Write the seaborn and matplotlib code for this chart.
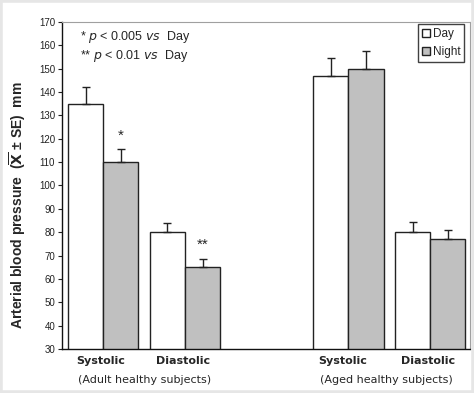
import matplotlib
matplotlib.use("Agg")
import matplotlib.pyplot as plt
import seaborn as sns
import pandas as pd
import numpy as np
from matplotlib.patches import Rectangle, Patch

# ---- data ----
categories = ["Systolic", "Diastolic", "", "Systolic ", "Diastolic "]
groups = ["(Adult healthy subjects)", "(Aged healthy subjects)"]
day_values = [135, 80, 147, 80]
night_values = [110, 65, 150, 77]
day_se = [7, 4, 7.5, 4.5]
night_se = [5.5, 3.5, 7.5, 4]
data_cats = ["Systolic", "Diastolic", "Systolic ", "Diastolic "]
yticks = list(range(30, 171, 10))

sns.set_theme(style="white")
plt.rcParams['font.family'] = ['Liberation Sans', 'DejaVu Sans']

df = pd.DataFrame({
    "cat": data_cats * 2,
    "period": ["Day"] * 4 + ["Night"] * 4,
    "value": day_values + night_values,
})

fig = plt.figure(figsize=(4.74, 3.93), dpi=100)
ax = fig.add_axes([0.131, 0.112, 0.861, 0.832])

sns.barplot(data=df, x="cat", y="value", hue="period", order=categories,
            hue_order=["Day", "Night"], palette={"Day": "white", "Night": "#c0c0c0"},
            width=0.86, edgecolor="#222222", linewidth=1.0, errorbar=None, ax=ax,
            legend=False)

day_bars = list(ax.patches[:4])
night_bars = list(ax.patches[4:8])
for blist, vals, ses in [(day_bars, day_values, day_se), (night_bars, night_values, night_se)]:
    for b, v, s in zip(blist, vals, ses):
        xc = b.get_x() + b.get_width() / 2
        ax.errorbar(xc, v, yerr=[[0], [s]], fmt="none", ecolor="#222222",
                    elinewidth=1.0, capsize=3, capthick=1.0, zorder=3)

ax.set_ylim(30, 170)
ax.set_xlim(-0.505, 4.49)
ax.set_yticks(yticks)
ax.set_yticklabels([str(t) for t in yticks], fontsize=7, color="#222222")
ax.tick_params(axis="y", direction="out", length=3, width=0.8, color="#222222", pad=2, left=True)
ax.set_xticks([])
ax.set_xlabel("")
ax.set_ylabel(r"Arterial blood pressure  ($\overline{\mathbf{X}}$ ± SE)  mm",
              fontsize=10, fontweight="bold")
ax.yaxis.set_label_coords(-0.084, 0.44)

for side in ["left", "bottom"]:
    ax.spines[side].set_color("#111111")
    ax.spines[side].set_linewidth(1.0)
for side in ["top", "right"]:
    ax.spines[side].set_color("#a0a0a0")
    ax.spines[side].set_linewidth(0.8)

# category labels
for xpos, lab in zip([-0.036, 0.976, 2.93, 3.98], data_cats):
    ax.text(xpos, -0.022, lab.strip(), transform=ax.get_xaxis_transform(),
            ha="center", va="top", fontsize=8, fontweight="bold", family="DejaVu Sans")
for xpos, g in zip([0.507, 3.47], groups):
    ax.text(xpos, -0.08, g, transform=ax.get_xaxis_transform(),
            ha="center", va="top", fontsize=8, family="DejaVu Sans")

# significance notes
ax.text(0.045, 0.98, r"* $\it{p}$ < 0.005 $\it{vs}$  Day", transform=ax.transAxes,
        fontsize=9, va="top", ha="left")
ax.text(0.045, 0.92, r"** $\it{p}$ < 0.01 $\it{vs}$  Day", transform=ax.transAxes,
        fontsize=9, va="top", ha="left")

# asterisks above night bars
ax.text(night_bars[0].get_x() + night_bars[0].get_width() / 2, night_values[0] + night_se[0] + 3,
        "*", ha="center", va="bottom", fontsize=11)
ax.text(night_bars[1].get_x() + night_bars[1].get_width() / 2, night_values[1] + night_se[1] + 3,
        "**", ha="center", va="bottom", fontsize=11)

# legend
handles = [Patch(facecolor="white", edgecolor="#222222", label="Day"),
           Patch(facecolor="#c0c0c0", edgecolor="#222222", label="Night")]
leg = ax.legend(handles=handles, loc="upper right", bbox_to_anchor=(0.99, 1.0),
                fontsize=8.5, frameon=True, fancybox=False, handlelength=0.7,
                handleheight=0.7, handletextpad=0.2, borderpad=0.35, labelspacing=0.5,
                borderaxespad=0.15)
leg.get_frame().set_edgecolor("#111111")
leg.get_frame().set_linewidth(1.0)

# light border around figure
fig.patches.append(Rectangle((0, 0), 1, 1, transform=fig.transFigure, fill=False,
                             edgecolor="#e6e6e6", linewidth=4))

fig.savefig("out.png", dpi=100)
